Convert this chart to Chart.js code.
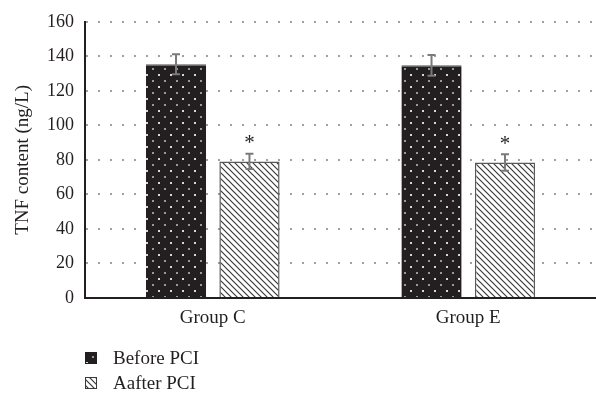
<!DOCTYPE html>
<html>
<head>
<meta charset="utf-8">
<script src="https://cdn.jsdelivr.net/npm/chart.js@4.4.1/dist/chart.umd.min.js"></script>
<style>
  html, body { margin: 0; padding: 0; background: #fff; }
  #wrap { width: 596px; height: 396px; position: relative; }
</style>
</head>
<body>
<div id="wrap"><canvas id="chart" width="596" height="396"></canvas></div>
<script>
// Chart data
const categories = ['Group C', 'Group E'];
const seriesNames = ['Before PCI', 'Aafter PCI'];
const beforeValues = [135.4, 134.8];
const afterValues = [79.1, 78.5];
const beforeErrors = [5.8, 6.0];
const afterErrors = [4.4, 4.8];
const significant = [false, true]; // per series: asterisk above bars
const yTicks = [0, 20, 40, 60, 80, 100, 120, 140, 160];

const INK = '#231f20';
const FONT = '"Liberation Serif", "DejaVu Serif", serif';

// Dotted fill for dark bars
function dotPattern() {
  const c = document.createElement('canvas');
  c.width = 12; c.height = 12;
  const g = c.getContext('2d');
  g.fillStyle = INK; g.fillRect(0, 0, 12, 12);
  g.fillStyle = '#d8d8d8'; g.fillRect(2, 2, 2, 2);
  g.fillStyle = '#9a9a9a'; g.fillRect(8, 8, 2, 2);
  return g.createPattern(c, 'repeat');
}
// Diagonal hatch fill for light bars
function hatchPattern() {
  const s = 6;
  const c = document.createElement('canvas');
  c.width = s; c.height = s;
  const g = c.getContext('2d');
  g.fillStyle = '#fff'; g.fillRect(0, 0, s, s);
  g.strokeStyle = '#3a3a3a'; g.lineWidth = 1.2;
  g.beginPath();
  g.moveTo(-1, -1); g.lineTo(s + 1, s + 1);
  g.moveTo(-1, s - 1); g.lineTo(1, s + 1);
  g.moveTo(s - 1, -1); g.lineTo(s + 1, 1);
  g.stroke();
  return g.createPattern(c, 'repeat');
}
const fills = [dotPattern(), hatchPattern()];
const errors = [beforeErrors, afterErrors];

// Error bars and significance marks
const errorBarPlugin = {
  id: 'errorBars',
  afterDatasetsDraw(chart) {
    const ctx = chart.ctx;
    const y = chart.scales.y;
    chart.data.datasets.forEach((ds, di) => {
      const meta = chart.getDatasetMeta(di);
      meta.data.forEach((bar, i) => {
        const v = ds.data[i], e = errors[di][i];
        const top = y.getPixelForValue(v + e);
        const bot = y.getPixelForValue(v - e);
        const x = bar.x;
        ctx.save();
        ctx.strokeStyle = '#7a7a7a';
        ctx.lineWidth = 2;
        ctx.beginPath();
        ctx.moveTo(x, top); ctx.lineTo(x, bot);
        ctx.moveTo(x - 4, top); ctx.lineTo(x + 4, top);
        ctx.moveTo(x - 4, bot); ctx.lineTo(x + 4, bot);
        ctx.stroke();
        if (significant[di]) {
          ctx.fillStyle = INK;
          ctx.font = '21px ' + FONT;
          ctx.textAlign = 'center';
          ctx.textBaseline = 'middle';
          ctx.fillText('*', x, top - 10);
        }
        ctx.restore();
      });
    });
  }
};

// Vertical legend under the plot
const legendPlugin = {
  id: 'stackedLegend',
  afterDraw(chart) {
    const ctx = chart.ctx;
    const x0 = 85, y0 = 352, step = 25, box = 12;
    seriesNames.forEach((name, i) => {
      const yy = y0 + i * step;
      ctx.save();
      ctx.fillStyle = fills[i];
      ctx.fillRect(x0, yy, box, box);
      ctx.strokeStyle = i === 0 ? INK : '#3a3a3a';
      ctx.lineWidth = 1;
      ctx.strokeRect(x0 + 0.5, yy + 0.5, box - 1, box - 1);
      ctx.fillStyle = INK;
      ctx.font = '19px ' + FONT;
      ctx.textAlign = 'left';
      ctx.textBaseline = 'middle';
      ctx.fillText(name, x0 + 28, yy + box / 2 + 1);
      ctx.restore();
    });
  }
};

new Chart(document.getElementById('chart'), {
  type: 'bar',
  data: {
    labels: categories,
    datasets: [
      { label: seriesNames[0], data: beforeValues, backgroundColor: fills[0],
        borderColor: '#5a5a5a', borderWidth: { top: 1.5, left: 0, right: 0, bottom: 0 } },
      { label: seriesNames[1], data: afterValues, backgroundColor: fills[1],
        borderColor: '#5a5a5a', borderWidth: 1.5 }
    ]
  },
  options: {
    responsive: false,
    animation: false,
    devicePixelRatio: 1,
    layout: { padding: { top: 12, right: 0, bottom: 58, left: 0 } },
    categoryPercentage: 0.575,
    barPercentage: 0.82,
    plugins: { legend: { display: false }, tooltip: { enabled: false } },
    scales: {
      x: {
        grid: { display: false, drawTicks: false },
        border: { display: true, color: INK, width: 2 },
        ticks: { color: INK, font: { family: FONT, size: 19 }, padding: 9 },
        afterFit(s) { s.height = 40; }
      },
      y: {
        min: 0, max: 160,
        afterBuildTicks(s) { s.ticks = yTicks.map(v => ({ value: v })); },
        grid: { color: '#a0a0a0', lineWidth: 2, drawTicks: false },
        border: { display: true, color: INK, width: 2, dash: [2, 10] },
        ticks: { color: INK, font: { family: FONT, size: 18 }, padding: 11 },
        title: { display: true, text: 'TNF content (ng/L)', color: INK,
                 font: { family: FONT, size: 19 }, padding: { top: 12, bottom: 0 } },
        afterFit(s) { s.width = 85; }
      }
    }
  },
  plugins: [errorBarPlugin, legendPlugin]
});
</script>
</body>
</html>
